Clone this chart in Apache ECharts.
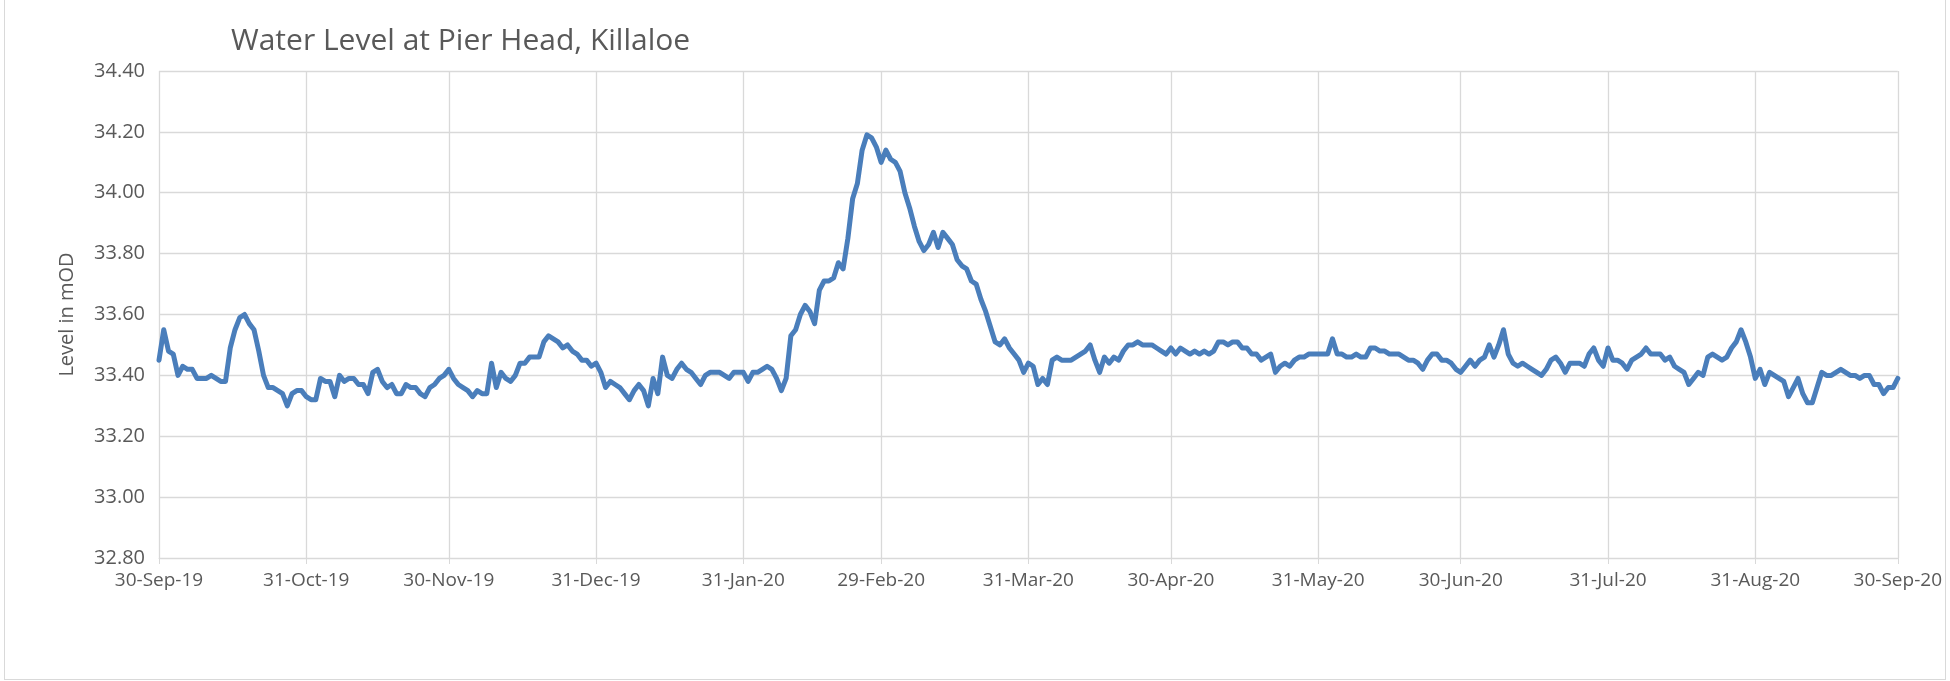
<!DOCTYPE html>
<html>
<head>
<meta charset="utf-8">
<script src="https://cdn.jsdelivr.net/npm/echarts@6/dist/echarts.min.js"></script>
<style>
html, body { margin: 0; padding: 0; background: #fff; }
#frame {
    position: absolute; left: 4px; top: -1px;
    width: 1940px; height: 679px;
    border: 1px solid #d9d9d9; overflow: hidden;
}
#main { width: 1940px; height: 679px; }
</style>
</head>
<body>
<div id="frame"><div id="main"></div></div>
<script>
// daily water level (mOD), 30-Sep-19 .. 30-Sep-20
var levels = [
    // Sep 30 / Oct
    33.45, 33.55, 33.48, 33.47, 33.40, 33.43, 33.42, 33.42, 33.39, 33.39,
    33.39, 33.40, 33.39, 33.38, 33.38, 33.49, 33.55, 33.59, 33.60, 33.57,
    33.55, 33.48, 33.40, 33.36, 33.36, 33.35, 33.34, 33.30, 33.34, 33.35,
    33.35, 33.33,
    // Nov
    33.32, 33.32, 33.39, 33.38, 33.38, 33.33, 33.40, 33.38, 33.39, 33.39,
    33.37, 33.37, 33.34, 33.41, 33.42, 33.38, 33.36, 33.37, 33.34, 33.34,
    33.37, 33.36, 33.36, 33.34, 33.33, 33.36, 33.37, 33.39, 33.40, 33.42,
    // Dec
    33.39, 33.37, 33.36, 33.35, 33.33, 33.35, 33.34, 33.34, 33.44, 33.36,
    33.41, 33.39, 33.38, 33.40, 33.44, 33.44, 33.46, 33.46, 33.46, 33.51,
    33.53, 33.52, 33.51, 33.49, 33.50, 33.48, 33.47, 33.45, 33.45, 33.43,
    33.44,
    // Jan
    33.41, 33.36, 33.38, 33.37, 33.36, 33.34, 33.32, 33.35, 33.37, 33.35,
    33.30, 33.39, 33.34, 33.46, 33.40, 33.39, 33.42, 33.44, 33.42, 33.41,
    33.39, 33.37, 33.40, 33.41, 33.41, 33.41, 33.40, 33.39, 33.41, 33.41,
    33.41,
    // Feb
    33.38, 33.41, 33.41, 33.42, 33.43, 33.42, 33.39, 33.35, 33.39, 33.53,
    33.55, 33.60, 33.63, 33.61, 33.57, 33.68, 33.71, 33.71, 33.72, 33.77,
    33.75, 33.85, 33.98, 34.03, 34.14, 34.19, 34.18, 34.15, 34.10,
    // Mar
    34.14, 34.11, 34.10, 34.07, 34.00, 33.95, 33.89, 33.84, 33.81, 33.83,
    33.87, 33.82, 33.87, 33.85, 33.83, 33.78, 33.76, 33.75, 33.71, 33.70,
    33.65, 33.61, 33.56, 33.51, 33.50, 33.52, 33.49, 33.47, 33.45, 33.41,
    33.44,
    // Apr
    33.43, 33.37, 33.39, 33.37, 33.45, 33.46, 33.45, 33.45, 33.45, 33.46,
    33.47, 33.48, 33.50, 33.45, 33.41, 33.46, 33.44, 33.46, 33.45, 33.48,
    33.50, 33.50, 33.51, 33.50, 33.50, 33.50, 33.49, 33.48, 33.47, 33.49,
    // May
    33.47, 33.49, 33.48, 33.47, 33.48, 33.47, 33.48, 33.47, 33.48, 33.51,
    33.51, 33.50, 33.51, 33.51, 33.49, 33.49, 33.47, 33.47, 33.45, 33.46,
    33.47, 33.41, 33.43, 33.44, 33.43, 33.45, 33.46, 33.46, 33.47, 33.47,
    33.47,
    // Jun
    33.47, 33.47, 33.52, 33.47, 33.47, 33.46, 33.46, 33.47, 33.46, 33.46,
    33.49, 33.49, 33.48, 33.48, 33.47, 33.47, 33.47, 33.46, 33.45, 33.45,
    33.44, 33.42, 33.45, 33.47, 33.47, 33.45, 33.45, 33.44, 33.42, 33.41,
    // Jul
    33.43, 33.45, 33.43, 33.45, 33.46, 33.50, 33.46, 33.50, 33.55, 33.47,
    33.44, 33.43, 33.44, 33.43, 33.42, 33.41, 33.40, 33.42, 33.45, 33.46,
    33.44, 33.41, 33.44, 33.44, 33.44, 33.43, 33.47, 33.49, 33.45, 33.43,
    33.49,
    // Aug
    33.45, 33.45, 33.44, 33.42, 33.45, 33.46, 33.47, 33.49, 33.47, 33.47,
    33.47, 33.45, 33.46, 33.43, 33.42, 33.41, 33.37, 33.39, 33.41, 33.40,
    33.46, 33.47, 33.46, 33.45, 33.46, 33.49, 33.51, 33.55, 33.51, 33.46,
    33.39,
    // Sep
    33.42, 33.37, 33.41, 33.40, 33.39, 33.38, 33.33, 33.36, 33.39, 33.34,
    33.31, 33.31, 33.36, 33.41, 33.40, 33.40, 33.41, 33.42, 33.41, 33.40,
    33.40, 33.39, 33.40, 33.40, 33.37, 33.37, 33.34, 33.36, 33.36, 33.39
];

var startDate = new Date(2019, 8, 30);
var monthNames = ['Jan','Feb','Mar','Apr','May','Jun','Jul','Aug','Sep','Oct','Nov','Dec'];
var dates = [];
var monthEnd = [];
for (var i = 0; i < levels.length; i++) {
    var d = new Date(startDate.getFullYear(), startDate.getMonth(), startDate.getDate() + i);
    var next = new Date(d.getFullYear(), d.getMonth(), d.getDate() + 1);
    dates.push(d.getDate() + '-' + monthNames[d.getMonth()] + '-' + String(d.getFullYear()).slice(2));
    monthEnd.push(next.getDate() === 1);
}
function isMonthEnd(index) { return monthEnd[index]; }

var chart = echarts.init(document.getElementById('main'));

var option = {
    animation: false,
    title: {
        text: 'Water Level at Pier Head, Killaloe',
        left: 221,
        top: 21,
        textStyle: {
            fontFamily: 'Open Sans',
            fontSize: 30,
            fontWeight: 'normal',
            color: '#595959'
        }
    },
    grid: {
        left: 154,
        top: 71,
        width: 1740,
        height: 487
    },
    xAxis: {
        type: 'category',
        data: dates,
        boundaryGap: false,
        axisLine: { lineStyle: { color: '#d9d9d9', width: 1 } },
        axisTick: { show: true, interval: isMonthEnd, length: 6, lineStyle: { color: '#d9d9d9' } },
        axisLabel: {
            interval: isMonthEnd,
            color: '#595959',
            fontFamily: 'Open Sans',
            fontSize: 19,
            margin: 13
        },
        splitLine: { show: true, interval: isMonthEnd, lineStyle: { color: '#d9d9d9', width: 1.3 } }
    },
    yAxis: {
        type: 'value',
        min: 32.8,
        max: 34.4,
        interval: 0.2,
        name: 'Level in mOD',
        nameLocation: 'middle',
        nameGap: 82,
        nameRotate: 90,
        nameTextStyle: { color: '#595959', fontFamily: 'Open Sans', fontSize: 20 },
        axisLine: { show: false },
        axisTick: { show: false },
        axisLabel: {
            color: '#595959',
            fontFamily: 'Open Sans',
            fontSize: 20,
            margin: 14,
            formatter: function (v) { return v.toFixed(2); }
        },
        splitLine: { lineStyle: { color: '#d9d9d9', width: 1.3 } }
    },
    series: [
        {
            name: 'Level',
            type: 'line',
            data: levels,
            showSymbol: false,
            lineStyle: { color: '#4a7ebb', width: 5, join: 'round', cap: 'round' },
            itemStyle: { color: '#4a7ebb' }
        }
    ]
};

chart.setOption(option);
</script>
</body>
</html>
